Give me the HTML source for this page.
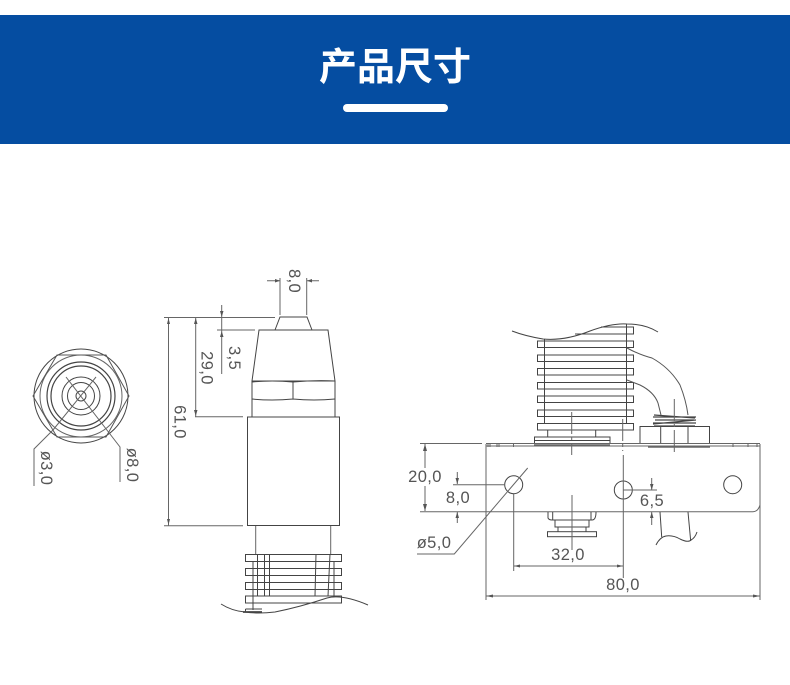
<!DOCTYPE html>
<html lang="zh">
<head>
<meta charset="utf-8">
<title>产品尺寸</title>
<style>
html,body{margin:0;padding:0;background:#fff;width:790px;height:685px;overflow:hidden}
svg{display:block;position:absolute;left:0;top:0}
.banner{position:absolute;left:0;top:15px;width:790px;height:129px;background:#054da1}
.title{position:absolute;left:0;top:24px;width:790px;text-align:center;color:#fff;font:bold 38px/80px "Noto Sans CJK SC","Liberation Sans",sans-serif;letter-spacing:0}
.bar{position:absolute;left:343px;top:104px;width:105px;height:8px;border-radius:4px;background:#fff}
text{font-family:"Liberation Sans",sans-serif;font-size:16.500px;fill:#555;text-anchor:middle;dominant-baseline:central;letter-spacing:.4px}
</style>
</head>
<body>
<div class="banner"></div>
<div class="title">产品尺寸</div>
<div class="bar"></div>
<svg width="790" height="685" viewBox="0 0 790 685" xmlns="http://www.w3.org/2000/svg">
<g fill="none" stroke="#444" stroke-width="1">
  <!-- front view -->
  <circle cx="81" cy="396" r="47"/>
  <circle cx="81" cy="396" r="41" stroke="#666"/>
  <circle cx="81" cy="396" r="34" stroke-width="1.200"/>
  <circle cx="81" cy="396" r="30" stroke-width="1.200"/>
  <circle cx="81" cy="396" r="19"/>
  <circle cx="81" cy="396" r="13.500"/>
  <circle cx="81" cy="396" r="5"/>
  <path d="M33 396 57 355H106L129 396 106 437H57Z" stroke="#555"/>
  <path d="M96 377 53 430 34 449V486M66 377 120 447V482" stroke="#666"/>

  <!-- side view -->
  <path d="M275 330 280 317H307L312 330M259 330H328L335 381H252ZM252 381V417M335 381V417"/>
  <path d="M252 382Q272 380 293 382 314 380 335 381M252 399Q272 401 293 399 314 401 335 399M293 382V399"/>
  <rect x="247.500" y="417" width="92" height="108.500"/>
  <path d="M255.700 526V554M330.700 526V554" stroke="#666"/>
  <rect x="245.500" y="554.500" width="96" height="7"/>
  <rect x="245.500" y="568.500" width="96" height="7"/>
  <rect x="245.500" y="582.500" width="96" height="7"/>
  <rect x="245.500" y="596" width="96" height="7"/>
  <path d="M245.500 609H262M245.500 609V612"/>
  <path d="M253 561V610M257.500 554V596M264.500 554V596M269.500 554V596M316 554 315 596M330 554 328 596M334 561V596"/>
  <path d="M221 604Q232 611 245 612 258 614 275 612 300 607 327 598 342 594 368 605"/>
  <path d="M243 612H262" stroke-width="1.800"/>

  <!-- dims, side view -->
  <g stroke="#666">
    <path d="M280 278V315M306.700 278V315M267 280.700H280M307 280.700H319"/>
    <path d="M164 317.500H275M217 330H255"/>
    <path d="M168.500 317V526M195.700 317V417M221.700 305V374M195 416.800H243M164 525.700H243"/>
  </g>
  <g fill="#555" stroke="none">
    <path d="M280 280.700 275 279V282.500ZM307 280.700 312 279V282.500ZM168.500 318 167 324H170ZM168.500 525 167 519H170ZM195.700 318 194 324H197.500ZM195.700 416 194 410H197.500ZM221.700 317 220 311H223.500ZM221.700 331 220 337H223.500Z"/>
  </g>

  <!-- top view body -->
  <path d="M512 331Q525 336 543 339 565 341 590 331 612 323 627 324 645 324 658 332"/>
  <path d="M601 327H633.500V334H575M537.500 341H633.500V347.500H537.500ZM537.500 355H633.500V361.500H537.500ZM537.500 368.500H633.500V375H537.500ZM537.500 382.500H633.500V389H537.500ZM537.500 396H633.500V402.500H537.500ZM537.500 410H633.500V416.500H537.500ZM537.500 423.500H633.500V430H537.500Z"/>
  <path d="M544.500 339V424M626.500 324V424M547.700 430V437M595.700 430V437"/>
  <rect x="534.500" y="437" width="75.500" height="6.500"/>
  <path d="M534.500 440.500H610"/>
  <path d="M627 348Q640 355 652 358 670 368 680 385 686 400 688 415M627 380 640 385Q654 392 658 403L661 415" stroke="#555"/>
  <path d="M653 417H696M655 420H694M653 423H696M654 426H695M654 415 695 418M653 424 696 420" stroke-width="1.300"/>
  <rect x="640" y="426.500" width="69.500" height="17"/>
  <path d="M660.700 427V443M688 427V443"/>
  <path d="M571.700 412V455M622.700 419V451M674.300 399V455" stroke="#666" stroke-dasharray="22 3 3 3"/>

  <!-- plate -->
  <path d="M486 443.500H760M486 446H760M486 444V600M760 444V600M420 511.700H753Q758 511.700 760 505" stroke="#666"/>
  <path d="M648 447H710M534 445H610" stroke-width="1.500" stroke="#666"/>
  <path d="M488 444V447M490 444V447M497 444V447M499 444V447M513.500 444V447M733 444V447M748 444V447M757 444V447" stroke="#666"/>
  <circle cx="513.700" cy="484.700" r="9"/>
  <circle cx="623.300" cy="490" r="9"/>
  <circle cx="732.700" cy="484.700" r="9"/>

  <!-- lower connector -->
  <path d="M548 512V518Q549 520 552 520H592Q596 520 596 512M552.700 512V520M591 512V520M555 520V527H589V520M558 527V531.700M586 527V531.700"/>
  <rect x="547.500" y="531.700" width="49" height="5"/>
  <path d="M572 495V550" stroke="#666"/>

  <!-- wires below -->
  <path d="M660 512 661.700 537M688 512 690.700 541M656 545Q660 537 666 536 673 535 680 539 688 543 691 540 695 538 697 532"/>

  <!-- dims, plate -->
  <g stroke="#666">
    <path d="M420 443.500H482M425 444V468M425 486V511M453 484.700H505M457.300 472V484M457.300 512V523"/>
    <path d="M527.700 468 454.300 554H417M513.700 494V571M513.700 566H623M486 596H760M623.300 455V578"/>
    <path d="M623 490H657M651.700 478V490M651.700 512V525"/>
  </g>
  <g fill="#555" stroke="none">
    <path d="M425 444 423 451H427ZM425 511 423 504H427ZM457.300 484 455.500 478H459ZM457.300 512 455.500 518H459ZM514 566 520 564.500V567.500ZM623 566 617 564.500V567.500ZM486 596 493 594.500V597.500ZM760 596 753 594.500V597.500ZM651.700 490 650 484H653.500ZM651.700 512 650 518H653.500Z"/>
  </g>
</g>

<text transform="translate(46 468) rotate(90)">ø3,0</text>
<text transform="translate(132 465) rotate(90)">ø8,0</text>
<text transform="translate(294 281) rotate(90)">8,0</text>
<text transform="translate(179.500 422) rotate(90)">61,0</text>
<text transform="translate(206.700 368) rotate(90)">29,0</text>
<text transform="translate(234 358) rotate(90)">3,5</text>
<text x="425" y="477">20,0</text>
<text x="458" y="498">8,0</text>
<text x="434" y="543">ø5,0</text>
<text x="568" y="555">32,0</text>
<text x="623" y="585">80,0</text>
<text x="652" y="501">6,5</text>
</svg>
</body>
</html>
